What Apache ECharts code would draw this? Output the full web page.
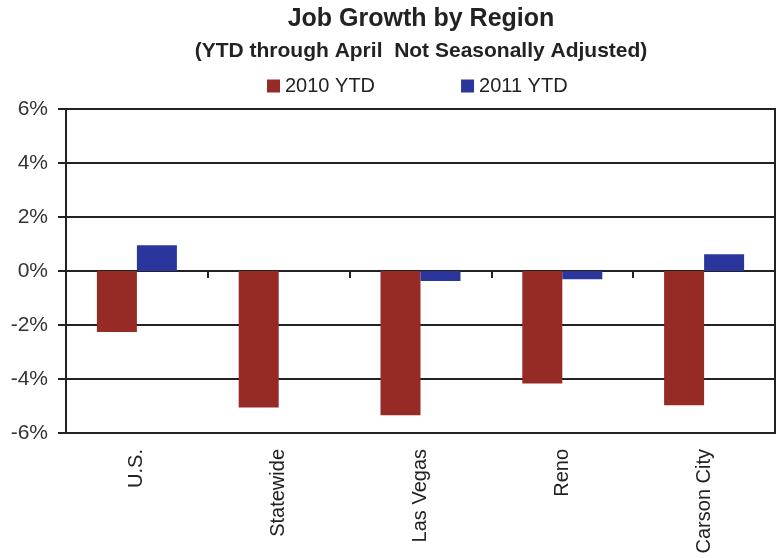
<!DOCTYPE html>
<html>
<head>
<meta charset="utf-8">
<script src="https://cdn.jsdelivr.net/npm/echarts@6/dist/echarts.min.js"></script>
<style>
  html, body { margin: 0; padding: 0; background: #fff; }
  #chart { width: 781px; height: 558px; }
</style>
</head>
<body>
<div id="chart"></div>
<script>
// Year-to-date job growth (percent) by region
const regions = ['U.S.', 'Statewide', 'Las Vegas', 'Reno', 'Carson City'];
const growth2010 = [-2.26, -5.06, -5.34, -4.17, -4.97];
const growth2011 = [0.95, 0, -0.37, -0.31, 0.62];
const seriesNames = ['2010 YTD', '2011 YTD'];
const yTicks = { min: -6, max: 6, step: 2 };

const ink = '#222';
const font = 'Liberation Sans, Arial, Helvetica, sans-serif';

const chart = echarts.init(document.getElementById('chart'), null, { renderer: 'canvas' });

chart.setOption({
  animation: false,
  backgroundColor: '#fff',
  textStyle: { fontFamily: font },
  title: [
    {
      text: 'Job Growth by Region',
      left: 421, top: 7, padding: 0, textAlign: 'center',
      textStyle: { fontFamily: font, fontSize: 25, fontWeight: 'bold', color: ink }
    },
    {
      text: '(YTD through April  Not Seasonally Adjusted)',
      left: 421, top: 41, padding: 0, textAlign: 'center',
      textStyle: { fontFamily: font, fontSize: 21, fontWeight: 'bold', color: ink }
    }
  ],
  legend: {
    data: seriesNames,
    left: 267, top: 76, padding: 0,
    icon: 'rect', itemWidth: 13, itemHeight: 13,
    itemGap: 86, itemTextGap: 6,
    textStyle: { fontFamily: font, fontSize: 20, color: ink }
  },
  grid: {
    left: 66, right: 6, top: 109, bottom: 125,
    show: true, borderColor: ink, borderWidth: 2, backgroundColor: 'transparent'
  },
  xAxis: [
    {
      type: 'category', data: regions, position: 'bottom',
      axisLine: { show: false, onZero: false },
      axisTick: { show: false },
      axisLabel: { rotate: 90, margin: 16, fontFamily: font, fontSize: 20, color: ink, interval: 0 }
    },
    {
      // zero line with boundary ticks pointing down
      type: 'category', data: regions, position: 'bottom',
      axisLine: { show: true, onZero: true, lineStyle: { color: ink, width: 2 } },
      axisTick: { show: true, length: 7, interval: 0, lineStyle: { color: ink, width: 2 } },
      axisLabel: { show: false }
    }
  ],
  yAxis: {
    type: 'value', min: yTicks.min, max: yTicks.max, interval: yTicks.step,
    axisLine: { show: true, lineStyle: { color: ink, width: 2 } },
    axisTick: { show: true, length: 8, lineStyle: { color: ink, width: 2 } },
    axisLabel: { margin: 18, fontFamily: font, fontSize: 21, color: '#333', formatter: '{value}%' },
    splitLine: { show: true, lineStyle: { color: ink, width: 2 } }
  },
  series: [
    {
      name: seriesNames[0], type: 'bar', xAxisIndex: 0, data: growth2010,
      barWidth: 40, barGap: '0%',
      itemStyle: { color: '#962A25' }
    },
    {
      name: seriesNames[1], type: 'bar', xAxisIndex: 0, data: growth2011,
      barWidth: 40, barGap: '0%',
      itemStyle: { color: '#2B369C' }
    }
  ]
});
</script>
</body>
</html>
